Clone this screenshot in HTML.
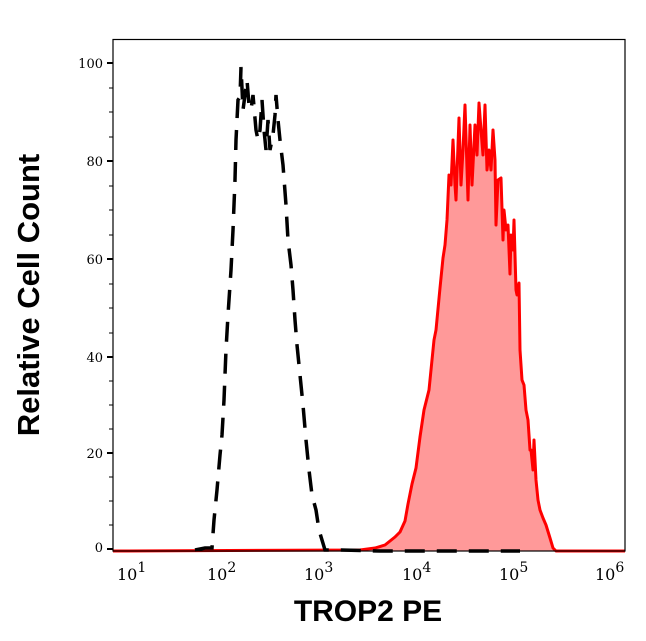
<!DOCTYPE html>
<html><head><style>body{margin:0;background:#fff}svg{display:block}</style></head><body>
<svg width="646" height="641" xmlns="http://www.w3.org/2000/svg">
<rect width="646" height="641" fill="#fff"/>
<polygon fill="#ff9999" points="360,551 360,550 375,548 385,545 395,537 400,532 405,521 408,504 412,484 416,468 420,437 424,410 429,390 434,340 436,330 440,288 443,258 445,245 447,220 449,175 451,185 453,140 455,185 456,200 459,118 461,185 463,150 465,105 468,200 470,125 472,185 473,165 475,125 477,155 479,103 481,130 483,155 485,105 487,170 489,150 491,170 493,130 495,160 496,225 498,180 501,178 503,240 504,210 506,230 508,225 510,274 511,235 513,250 514,220 516,290 517,295 519,283 520,350 522,380 524,385 526,410 528,420 530,450 531,450 533,470 534,440 536,480 538,500 540,510 543,518 546,525 550,538 553,548 556,551"/>
<polyline fill="none" stroke="#ff0000" stroke-width="3" stroke-linejoin="round" points="113,551 360,550 375,548 385,545 395,537 400,532 405,521 408,504 412,484 416,468 420,437 424,410 429,390 434,340 436,330 440,288 443,258 445,245 447,220 449,175 451,185 453,140 455,185 456,200 459,118 461,185 463,150 465,105 468,200 470,125 472,185 473,165 475,125 477,155 479,103 481,130 483,155 485,105 487,170 489,150 491,170 493,130 495,160 496,225 498,180 501,178 503,240 504,210 506,230 508,225 510,274 511,235 513,250 514,220 516,290 517,295 519,283 520,350 522,380 524,385 526,410 528,420 530,450 531,450 533,470 534,440 536,480 538,500 540,510 543,518 546,525 550,538 553,548 556,551 625,551"/>
<polyline fill="none" stroke="#000" stroke-width="3.5" stroke-dasharray="20,12" points="195,550 205,548 212,548 214,520 217,490 220,455 222,435 224,400 226,350 228,315 231,270 233,230 235,180 236,140 238,100 240,97 241,67 243,110 245,95 247,80 249,105 251,110 253,95 256,130 258,140 260,130 262,100 264,130 266,150 268,120 270,150 273,135 275,115 276,95 278,120 280,140 283,165 286,205 288,240 291,265 293,290 295,320 297,345 300,375 303,405 306,440 309,470 312,495 316,510 319,530 322,540 325,550 340,550 380,551 460,551 520,551"/>
<rect x="113" y="39.5" width="512" height="511.5" fill="none" stroke="#000" stroke-width="1.2"/>
<g stroke="#000" stroke-width="2">
<line x1="107" y1="63" x2="113" y2="63"/><line x1="107" y1="161" x2="113" y2="161"/><line x1="107" y1="259" x2="113" y2="259"/><line x1="107" y1="357" x2="113" y2="357"/><line x1="107" y1="453" x2="113" y2="453"/><line x1="107" y1="549" x2="113" y2="549"/>
</g>
<g stroke="#000" stroke-width="1">
<line x1="109" y1="88" x2="113" y2="88"/><line x1="109" y1="112" x2="113" y2="112"/><line x1="109" y1="137" x2="113" y2="137"/>
<line x1="109" y1="186" x2="113" y2="186"/><line x1="109" y1="210" x2="113" y2="210"/><line x1="109" y1="235" x2="113" y2="235"/>
<line x1="109" y1="284" x2="113" y2="284"/><line x1="109" y1="308" x2="113" y2="308"/><line x1="109" y1="333" x2="113" y2="333"/>
<line x1="109" y1="381" x2="113" y2="381"/><line x1="109" y1="405" x2="113" y2="405"/><line x1="109" y1="429" x2="113" y2="429"/>
<line x1="109" y1="477" x2="113" y2="477"/><line x1="109" y1="501" x2="113" y2="501"/><line x1="109" y1="525" x2="113" y2="525"/>
</g>
<g id="xt" stroke="#000"></g>
<script>
var g=document.getElementById('xt'),s='';
for(var d=1;d<=6;d++){var x=112.5+(d-1)*97.5;s+='<line x1="'+x+'" y1="551" x2="'+x+'" y2="558" stroke-width="2"/>';
if(d<6)for(var m=2;m<10;m++){var xm=x+Math.log10(m)*97.5;s+='<line x1="'+xm+'" y1="551" x2="'+xm+'" y2="'+(m==5?556:555)+'" stroke-width="1"/>';}}
g.innerHTML=s;
</script>
<g font-family="DejaVu Serif, Liberation Serif, serif" font-size="13" text-anchor="end" fill="#000">
<text x="103" y="68">100</text><text x="103" y="166">80</text><text x="103" y="264">60</text><text x="103" y="362">40</text><text x="103" y="458">20</text><text x="103" y="552">0</text>
</g>
<g font-family="DejaVu Serif, Liberation Serif, serif" font-size="16" fill="#000">
<text x="117" y="580">10<tspan dy="-8" font-size="14">1</tspan></text>
<text x="207" y="580">10<tspan dy="-8" font-size="14">2</tspan></text>
<text x="304" y="580">10<tspan dy="-8" font-size="14">3</tspan></text>
<text x="402" y="580">10<tspan dy="-8" font-size="14">4</tspan></text>
<text x="499" y="580">10<tspan dy="-8" font-size="14">5</tspan></text>
<text x="595" y="580">10<tspan dy="-8" font-size="14">6</tspan></text>
</g>
<text x="368" y="621" text-anchor="middle" font-family="Liberation Sans, sans-serif" font-weight="bold" font-size="30">TROP2 PE</text>
<text transform="translate(39,295) rotate(-90)" text-anchor="middle" font-family="Liberation Sans, sans-serif" font-weight="bold" font-size="31">Relative Cell Count</text>
</svg>
</body></html>
